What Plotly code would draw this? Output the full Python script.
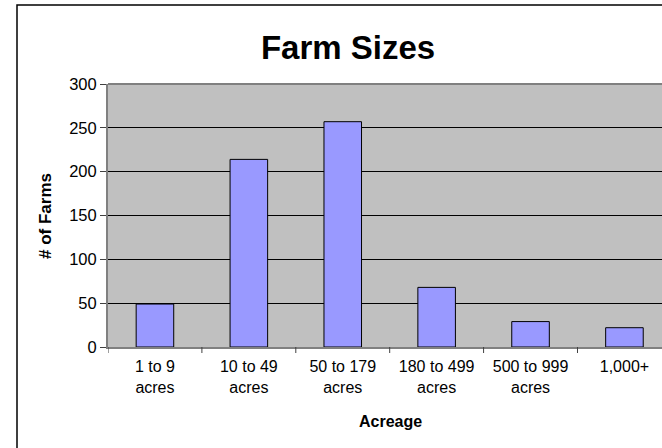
import plotly.graph_objects as go

categories = ["1 to 9<br>acres", "10 to 49<br>acres", "50 to 179<br>acres",
              "180 to 499<br>acres", "500 to 999<br>acres", "1,000+"]
farms = [49, 214, 257, 68, 29, 22]
y_ticks = [0, 50, 100, 150, 200, 250, 300]

W, H = 662, 448
L, T, R, B = 108, 84, 0, 101
pw, ph = W - L - R, H - T - B
FONT = "Liberation Sans, Arial, sans-serif"

fig = go.Figure(go.Bar(
    x=list(range(len(categories))), y=farms,
    marker=dict(color="#9999FF", line=dict(color="#000000", width=1)),
    width=0.4,
))

def px_x(p):
    return (p - L) / pw

def px_y(p):
    return (H - B - p) / ph

fig.update_layout(
    width=W, height=H,
    margin=dict(l=L, r=R, t=T, b=B, pad=0),
    paper_bgcolor="white", plot_bgcolor="#C0C0C0",
    showlegend=False,
    font=dict(family=FONT, size=16, color="black"),
    title=dict(text="<b>Farm Sizes</b>", font=dict(family=FONT, size=33, color="black"),
               x=348 / W, xref="container", xanchor="center",
               y=1 - 47 / H, yref="container", yanchor="middle"),
    xaxis=dict(
        range=[-0.5, 5.4], tickmode="array",
        tickvals=list(range(len(categories))), ticktext=categories,
        showgrid=False, zeroline=False,
        showline=True, linecolor="#808080", linewidth=2,
        ticks="", ticklabelstandoff=4,
        tickfont=dict(family=FONT, size=16, color="black"),
    ),
    yaxis=dict(
        range=[0, 300], tickmode="array", tickvals=y_ticks,
        showgrid=True, gridcolor="#000000", gridwidth=1,
        zeroline=False,
        showline=True, linecolor="#808080", linewidth=2,
        ticks="outside", ticklen=6, tickcolor="#404040", tickwidth=1,
        tickfont=dict(family=FONT, size=16.5, color="black"),
    ),
    shapes=[
        # category boundary ticks
        *[dict(type="line", xref="x", yref="paper", x0=i + 0.5, x1=i + 0.5,
               y0=0, y1=-6 / ph, line=dict(color="#404040", width=1))
          for i in range(-1, 5)],
        # plot area top border
        dict(type="line", xref="paper", yref="paper", x0=0, x1=1, y0=1, y1=1,
             line=dict(color="#808080", width=2)),
        # chart frame
        dict(type="rect", xref="paper", yref="paper",
             x0=px_x(17), x1=px_x(679), y0=px_y(470), y1=px_y(5),
             line=dict(color="black", width=1.5), fillcolor="rgba(0,0,0,0)"),
    ],
    annotations=[
        dict(text="<b>Acreage</b>", xref="paper", yref="paper",
             x=px_x(390), y=px_y(421), xanchor="center", yanchor="middle",
             showarrow=False, font=dict(family=FONT, size=16, color="black")),
        dict(text="<b># of Farms</b>", xref="paper", yref="paper",
             x=px_x(45), y=px_y(216), xanchor="center", yanchor="middle",
             textangle=-90, showarrow=False,
             font=dict(family=FONT, size=17, color="black")),
    ],
)

fig.write_html("out.html")
